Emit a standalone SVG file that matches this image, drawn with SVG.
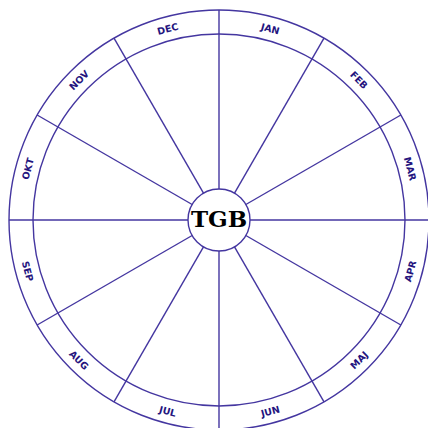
<svg xmlns="http://www.w3.org/2000/svg" width="428" height="428" viewBox="0 0 428 428">
<style>
.ln{stroke:#4436a0;stroke-width:1.4;fill:none}
.m{font-family:"DejaVu Sans",sans-serif;font-weight:bold;font-size:9.5px;fill:#24147e;text-anchor:middle;dominant-baseline:central}
</style>
<rect width="428" height="428" fill="#fff"/>
<g id="connectors" class="ln">
<circle cx="219" cy="220" r="210"/>
<circle cx="219" cy="220" r="186"/>
<g transform="translate(219,220)">
<line x1="0" y1="-31" x2="0" y2="-210"/>
<line x1="0" y1="-31" x2="0" y2="-210" transform="rotate(30)"/>
<line x1="0" y1="-31" x2="0" y2="-210" transform="rotate(60)"/>
<line x1="0" y1="-31" x2="0" y2="-210" transform="rotate(90)"/>
<line x1="0" y1="-31" x2="0" y2="-210" transform="rotate(120)"/>
<line x1="0" y1="-31" x2="0" y2="-210" transform="rotate(150)"/>
<line x1="0" y1="-31" x2="0" y2="-210" transform="rotate(180)"/>
<line x1="0" y1="-31" x2="0" y2="-210" transform="rotate(210)"/>
<line x1="0" y1="-31" x2="0" y2="-210" transform="rotate(240)"/>
<line x1="0" y1="-31" x2="0" y2="-210" transform="rotate(270)"/>
<line x1="0" y1="-31" x2="0" y2="-210" transform="rotate(300)"/>
<line x1="0" y1="-31" x2="0" y2="-210" transform="rotate(330)"/>
</g>
</g>
<g id="center">
<circle cx="219" cy="220" r="31" fill="#fff" class="ln"/>
<text x="219" y="218" font-family="'DejaVu Serif','Liberation Serif',serif" font-weight="bold" font-size="23" text-anchor="middle" dominant-baseline="central" fill="#000">TGB</text>
</g>
<g id="months" transform="translate(219,220)">
<g id="jan" transform="rotate(15)"><text class="m" x="0" y="-198">JAN</text></g>
<g id="feb" transform="rotate(45)"><text class="m" x="0" y="-198">FEB</text></g>
<g id="mar" transform="rotate(75)"><text class="m" x="0" y="-198">MAR</text></g>
<g id="apr" transform="rotate(-75)"><text class="m" x="0" y="198">APR</text></g>
<g id="maj" transform="rotate(-45)"><text class="m" x="0" y="198">MAJ</text></g>
<g id="jun" transform="rotate(-15)"><text class="m" x="0" y="198">JUN</text></g>
<g id="jul" transform="rotate(15)"><text class="m" x="0" y="198">JUL</text></g>
<g id="aug" transform="rotate(45)"><text class="m" x="0" y="198">AUG</text></g>
<g id="sep" transform="rotate(75)"><text class="m" x="0" y="198">SEP</text></g>
<g id="okt" transform="rotate(-75)"><text class="m" x="0" y="-198">OKT</text></g>
<g id="nov" transform="rotate(-45)"><text class="m" x="0" y="-198">NOV</text></g>
<g id="dec" transform="rotate(-15)"><text class="m" x="0" y="-198">DEC</text></g>
</g>
</svg>
